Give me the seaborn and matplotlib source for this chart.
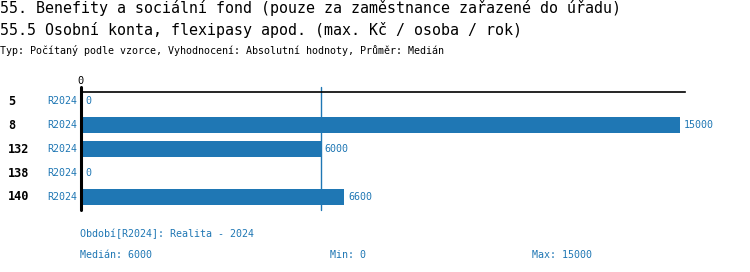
import numpy as np
import pandas as pd
import matplotlib
matplotlib.use("Agg")
import matplotlib.pyplot as plt
import matplotlib.transforms as mtransforms
import seaborn as sns

# ---- data ----
ids = ["5", "8", "132", "138", "140"]
periods = ["R2024", "R2024", "R2024", "R2024", "R2024"]
values = [0, 15000, 6000, 0, 6600]

title1 = "55. Benefity a sociální fond (pouze za zaměstnance zařazené do úřadu)"
title2 = "55.5 Osobní konta, flexipasy apod. (max. Kč / osoba / rok)"
subtitle = "Typ: Počítaný podle vzorce, Vyhodnocení: Absolutní hodnoty, Průměr: Medián"
period_note = "Období[R2024]: Realita - 2024"

BLUE = "#1f77b4"
MONO = "DejaVu Sans Mono"

sns.set_theme(style="white")
plt.rcParams["font.family"] = [MONO, "DejaVu Sans"]

df = pd.DataFrame({"id": ids, "period": periods, "value": values})
df["row"] = [f"{i}_{k}" for k, i in enumerate(ids)]

fig = plt.figure(figsize=(7.5, 2.72), dpi=100)
ax = fig.add_axes([0.108, 0.228, 0.805, 0.434])

sns.barplot(data=df, x="value", y="row", orient="h", color=BLUE,
            saturation=1, width=0.67, ax=ax, edgecolor="none")

ax.set_xlim(0, 15125)
ax.set_ylim(4.55, -0.4)
ax.set_xlabel("")
ax.set_ylabel("")

# spines
for s in ["right", "bottom", "left"]:
    ax.spines[s].set_visible(False)
ax.spines["top"].set_visible(True)
ax.spines["top"].set_color("black")
ax.spines["top"].set_linewidth(1.2)

# top tick
ax.xaxis.set_ticks_position("top")
ax.set_xticks([0])
ax.set_xticklabels(["0"])
ax.tick_params(axis="x", length=0, pad=4, labelsize=7.5, colors="black")
ax.set_yticks([])

# axis line and median line
ax.axvline(0, ymin=0, ymax=1.04, color="black", lw=2.2, clip_on=False, zorder=5)
med = float(np.median(values))
ax.axvline(med, ymin=0, ymax=1.04, color=BLUE, lw=1.0, clip_on=False, zorder=1)

# row labels
tr = mtransforms.blended_transform_factory(fig.transFigure, ax.transData)
for k, (i, p, v) in enumerate(zip(ids, periods, values)):
    ax.text(8 / 750, k, i, transform=tr, ha="left", va="center",
            fontsize=8.6, fontweight="bold", color="black", family=MONO)
    ax.text(77 / 750, k, p, transform=tr, ha="right", va="center",
            fontsize=7.2, color=BLUE, family=MONO)
    ax.annotate(f"{v}", xy=(v, k), xytext=(3, 0), textcoords="offset points",
                ha="left", va="center", fontsize=7.2, color=BLUE, family=MONO)

# titles
fig.text(0, 1 - 8 / 272, title1, ha="left", va="center", fontsize=10.8, color="black", family=MONO)
fig.text(0, 1 - 30 / 272, title2, ha="left", va="center", fontsize=10.8, color="black", family=MONO)
fig.text(0, 1 - 50 / 272, subtitle, ha="left", va="center", fontsize=7.2, color="black", family=MONO)

# footer
fig.text(80 / 750, 1 - 234 / 272, period_note, ha="left", va="center", fontsize=7.2, color=BLUE, family=MONO)
fig.text(80 / 750, 1 - 255 / 272, f"Medián: {int(med)}", ha="left", va="center", fontsize=7.2, color=BLUE, family=MONO)
fig.text(330 / 750, 1 - 255 / 272, f"Min: {min(values)}", ha="left", va="center", fontsize=7.2, color=BLUE, family=MONO)
fig.text(532 / 750, 1 - 255 / 272, f"Max: {max(values)}", ha="left", va="center", fontsize=7.2, color=BLUE, family=MONO)

fig.savefig("out.png", dpi=100)
